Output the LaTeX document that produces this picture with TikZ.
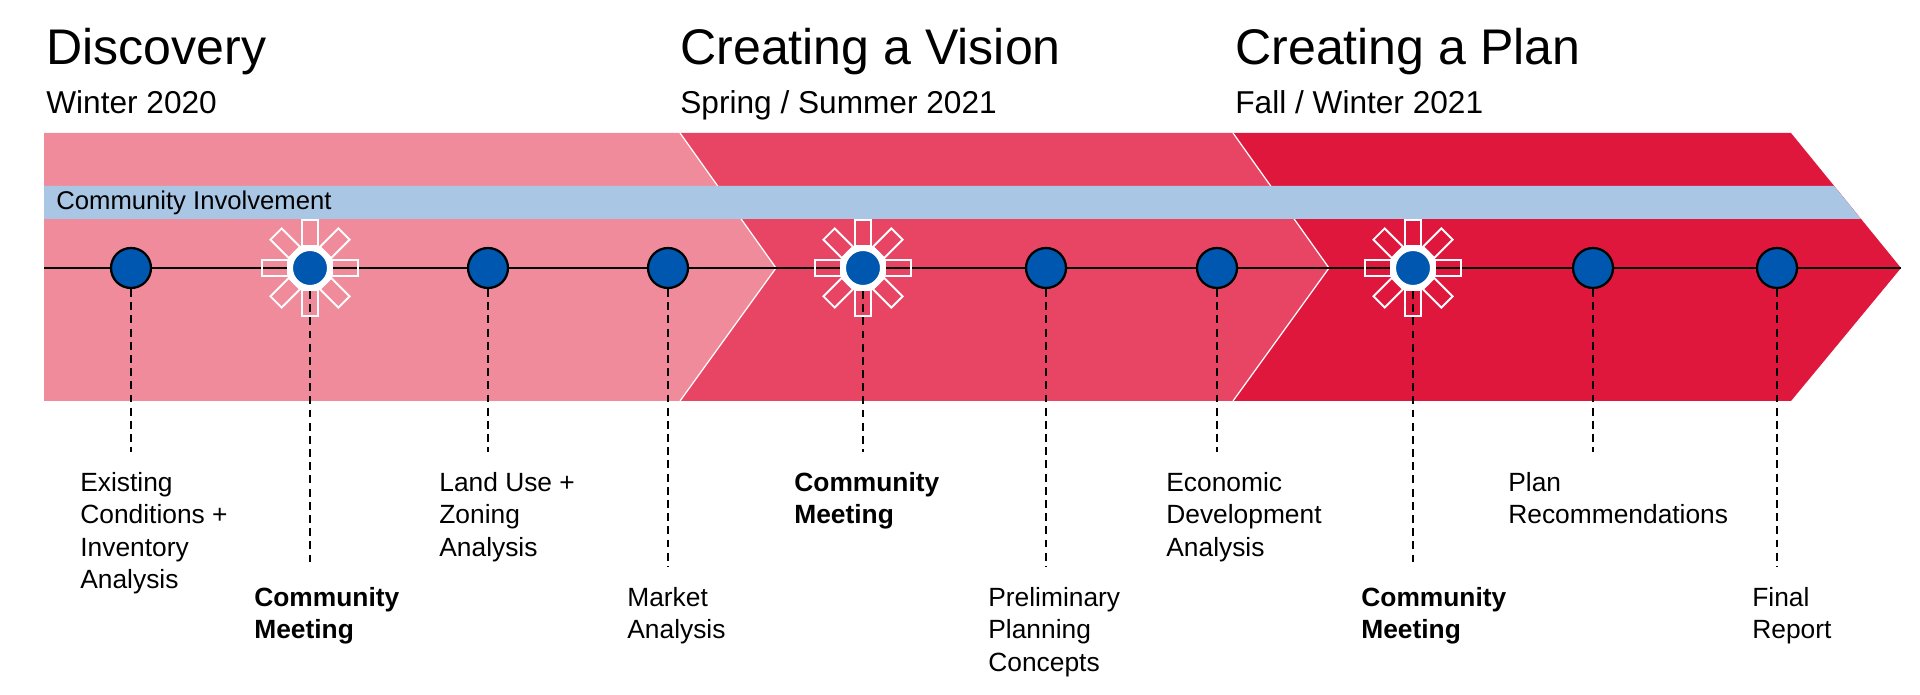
\documentclass[tikz,border=0pt]{standalone}
\usepackage{fontspec}
\setmainfont{Liberation Sans}
\usepackage{tikz}
\usetikzlibrary{arrows.meta, positioning, calc}
\definecolor{discpink}{HTML}{F08B9C}
\definecolor{visionred}{HTML}{E84565}
\definecolor{planred}{HTML}{E0173D}
\definecolor{bandblue}{HTML}{A9C6E4}
\definecolor{dotblue}{HTML}{0057B0}
\newcommand{\drawburst}[1]{
    \begin{scope}[shift={(#1)}]
        \foreach \a in {0,45,...,315} {
            \draw[white, line width=1.1pt, rotate=\a] (22,-8) rectangle (48,8);
        }
    \end{scope}
}

\begin{document}
\begin{tikzpicture}[x=0.02cm, y=-0.02cm,
    phase/.style={anchor=base west, inner sep=0pt, font=\fontsize{28.5}{32}\selectfont},
    season/.style={anchor=base west, inner sep=0pt, font=\fontsize{18}{22}\selectfont},
    task/.style={anchor=north west, inner sep=0pt, align=left, font=\fontsize{15}{18.4}\selectfont},
    keytask/.style={task, font=\fontsize{15}{18.4}\selectfont\bfseries},
    dot/.style={circle, fill=dotblue, draw=black, line width=1.3pt, minimum size=0.8cm, inner sep=0pt},
    meet/.style={circle, fill=dotblue, draw=white, line width=3.4pt, minimum size=0.8cm, inner sep=0pt},
    lead/.style={line width=1.4pt, dash pattern=on 4.5pt off 3pt},
    timeline/.style={line width=1.5pt},
    seam/.style={white, line width=0.7pt}
]
\useasboundingbox (0,0) rectangle (1920,695);

% Phase titles
\node[phase] (t1) at (46,65) {Discovery};
\node[season] (s1) at ([yshift=-0.98cm]t1.base west) {Winter 2020};
\node[phase] (t2) at (680,65) {Creating a Vision};
\node[season] (s2) at ([yshift=-0.98cm]t2.base west) {Spring / Summer 2021};
\node[phase] (t3) at (1235,65) {Creating a Plan};
\node[season] (s3) at ([yshift=-0.98cm]t3.base west) {Fall / Winter 2021};

% Chevron bands
\coordinate (cut1) at (680,133);
\coordinate (cut2) at (1233,133);
\fill[discpink] (44,133) -- (cut1) -- (776,268) -- (680,401) -- (44,401) -- cycle;
\fill[visionred] (cut1) -- (cut2) -- (1329,268) -- (1233,401) -- (680,401) -- (776,268) -- cycle;
\fill[planred] (cut2) -- (1791,133) -- (1901,268) -- (1791,401) -- (1233,401) -- (1329,268) -- cycle;
\draw[seam] (cut1) -- (776,268) -- (680,401);
\draw[seam] (cut2) -- (1329,268) -- (1233,401);

% Community involvement band
\fill[bandblue] (44,186) -- (1834,186) -- (1861,219) -- (44,219) -- cycle;
\node[anchor=base west, inner sep=0pt, font=\fontsize{14.6}{17}\selectfont] (ci) at (56,210) {Community Involvement};

% Timeline
\coordinate (start) at (44,268);
\coordinate (tip) at (1901,268);
\draw[timeline] (start) -- (tip);

% Milestones
\foreach \n/\x in {1/131, 3/488, 4/668, 6/1046, 7/1217, 9/1593, 10/1777} {
    \node[dot] (m\n) at (\x,268) {};
}
\foreach \n/\x in {2/310, 5/863, 8/1413} {
    \drawburst{\x,268}
    \node[meet] (m\n) at (\x,268) {};
}

% Label rows
\coordinate (top) at (0,472);
\coordinate (bot) at (0,587);

\node[task] (l1) at ([xshift=-1.02cm]m1 |- top) {Existing\\Conditions +\\Inventory\\Analysis};
\node[keytask] (l2) at ([xshift=-1.12cm]m2 |- bot) {Community\\Meeting};
\node[task] (l3) at ([xshift=-0.98cm]m3 |- top) {Land Use +\\Zoning\\Analysis};
\node[task] (l4) at ([xshift=-0.82cm]m4 |- bot) {Market\\Analysis};
\node[keytask] (l5) at ([xshift=-1.38cm]m5 |- top) {Community\\Meeting};
\node[task] (l6) at ([xshift=-1.16cm]m6 |- bot) {Preliminary\\Planning\\Concepts};
\node[task] (l7) at ([xshift=-1.02cm]m7 |- top) {Economic\\Development\\Analysis};
\node[keytask] (l8) at ([xshift=-1.04cm]m8 |- bot) {Community\\Meeting};
\node[task] (l9) at ([xshift=-1.7cm]m9 |- top) {Plan\\Recommendations};
\node[task] (l10) at ([xshift=-0.5cm]m10 |- bot) {Final\\Report};

% Leaders from milestones down to labels
\foreach \n in {1,...,10} {
    \draw[lead] (m\n) -- ([yshift=0.4cm]m\n |- l\n.north);
}

\end{tikzpicture}
\end{document}
